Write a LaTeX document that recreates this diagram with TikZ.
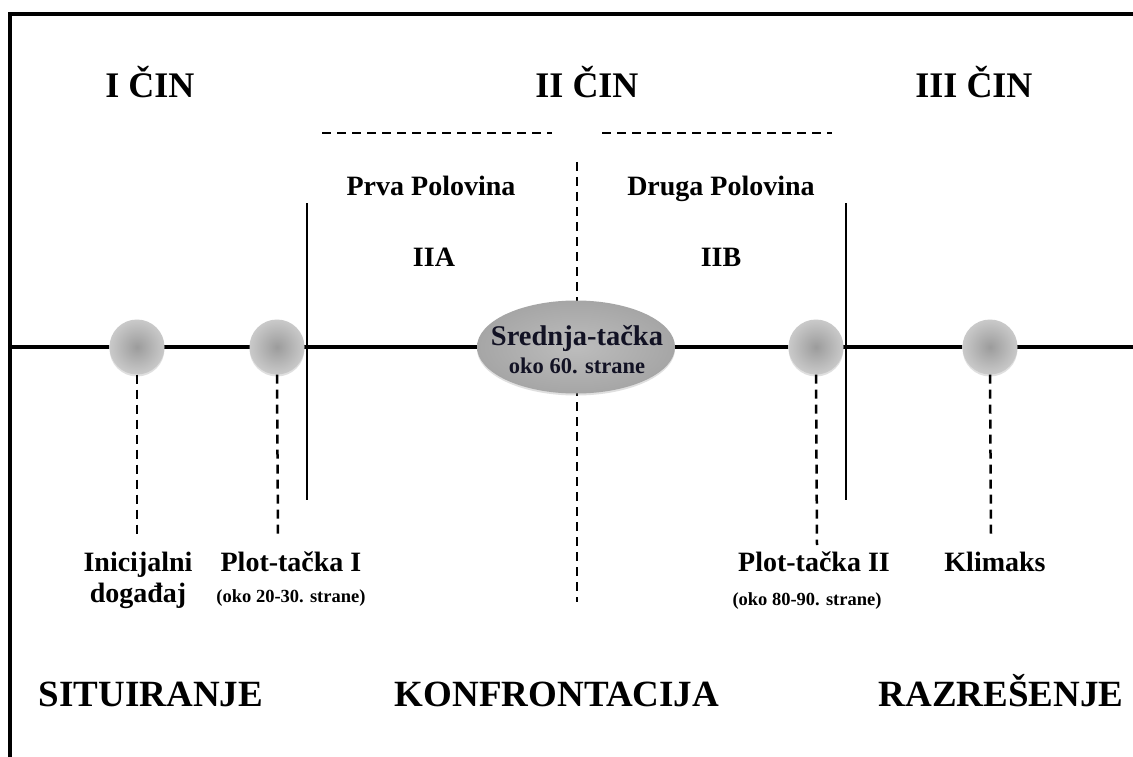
\documentclass[tikz,border=0pt]{standalone}
\usepackage{fontspec}
\setmainfont{Liberation Serif}
\usetikzlibrary{shadows,shapes.geometric}
\definecolor{ink}{RGB}{18,18,36}
\begin{document}
\begin{tikzpicture}[x=1pt,y=-1pt,
  txt/.style={anchor=base,inner sep=0pt,font=\bfseries\fontsize{#1}{#1}\selectfont},
  title/.style={txt=36},
  part/.style={txt=37},
  lbl/.style={txt=28},
  small/.style={txt=18.5},
  frameline/.style={line width=3.5pt,black},
  timeline/.style={line width=3.5pt,black},
  divider/.style={line width=2.2pt,black},
  dashline/.style={line width=2.5pt,black,dash pattern=on 9pt off 6pt},
  ball/.style={circle,minimum size=55pt,inner sep=0pt,draw=none,
    shading=radial,inner color=gray!78,outer color=gray!42,
    drop shadow={opacity=0.25,shadow xshift=0pt,shadow yshift=-2pt}},
  midpoint/.style={ellipse,minimum width=198pt,minimum height=93pt,inner sep=0pt,draw=none,
    shading=radial,inner color=gray!52,outer color=gray!70,
    drop shadow={opacity=0.25,shadow xshift=0pt,shadow yshift=-2pt}}
]
\useasboundingbox (0,0) rectangle (1133,757);
\fill[white] (0,0) rectangle (1133,757);

% frame
\coordinate (fb) at (10,757);
\coordinate (fc) at (10,14);
\coordinate (fr) at (1133,14);
\draw[frameline] (fb) -- (fc) -- (fr);

% acts
\node[title] (act1) at (150,98) {I ČIN};
\node[title] (act2) at (587,98) {II ČIN};
\node[title] (act3) at (974,98) {III ČIN};

% dashed halves
\coordinate (h1a) at (322,133); \coordinate (h1b) at (552,133);
\coordinate (h2a) at (602,133); \coordinate (h2b) at (832,133);
\draw[dashline] (h1a) -- (h1b);
\draw[dashline] (h2a) -- (h2b);

\node[lbl] (prva) at (431,196) {Prva Polovina};
\node[lbl] (druga) at (721,196) {Druga Polovina};
\node[lbl] (iia) at (434,266) {IIA};
\node[lbl] (iib) at (721,266) {IIB};

% middle dashed
\coordinate (mt) at (577,162); \coordinate (mb) at (577,602);
\draw[dashline] (mt) -- (mb);

% act dividers
\coordinate (v1t) at (307,203); \coordinate (v1b) at (307,500);
\coordinate (v2t) at (846,203); \coordinate (v2b) at (846,500);
\draw[divider] (v1t) -- (v1b);
\draw[divider] (v2t) -- (v2b);

% timeline
\coordinate (tl) at (12,347); \coordinate (tr) at (1133,347);
\draw[timeline] (tl) -- (tr);

% drops
\coordinate (d1) at (137,535);
\coordinate (d2) at (278,535);
\coordinate (d3) at (817,545);
\coordinate (d4) at (991,535);

\node[ball] (s1) at (137,347) {};
\node[ball] (s2) at (277,347) {};
\node[ball] (s3) at (816,347) {};
\node[ball] (s4) at (990,347) {};

\draw[dashline] (s1.south) -- (d1);
\draw[dashline] (s2.south) -- (d2);
\draw[dashline] (s3.south) -- (d3);
\draw[dashline] (s4.south) -- (d4);

\node[midpoint] (mid) at (576,347) {};
\node[txt=28.5,text=ink] (midt1) at (577,345) {Srednja-tačka};
\node[txt=22.5,text=ink] (midt2) at (577,373) {oko 60. strane};

% labels
\node[lbl] (ini1) at (138,571) {Inicijalni};
\node[lbl] (ini2) at (138,602) {događaj};
\node[lbl] (pt1) at (291,571) {Plot-tačka I};
\node[small] (pt1s) at (291,602) {(oko 20-30. strane)};
\node[lbl] (pt2) at (814,571) {Plot-tačka II};
\node[small] (pt2s) at (807,605) {(oko 80-90. strane)};
\node[lbl] (klim) at (995,571) {Klimaks};

% parts
\node[part] (sit) at (151,706) {SITUIRANJE};
\node[part] (konf) at (557,706) {KONFRONTACIJA};
\node[part] (raz) at (1001,706) {RAZREŠENJE};
\end{tikzpicture}
\end{document}
